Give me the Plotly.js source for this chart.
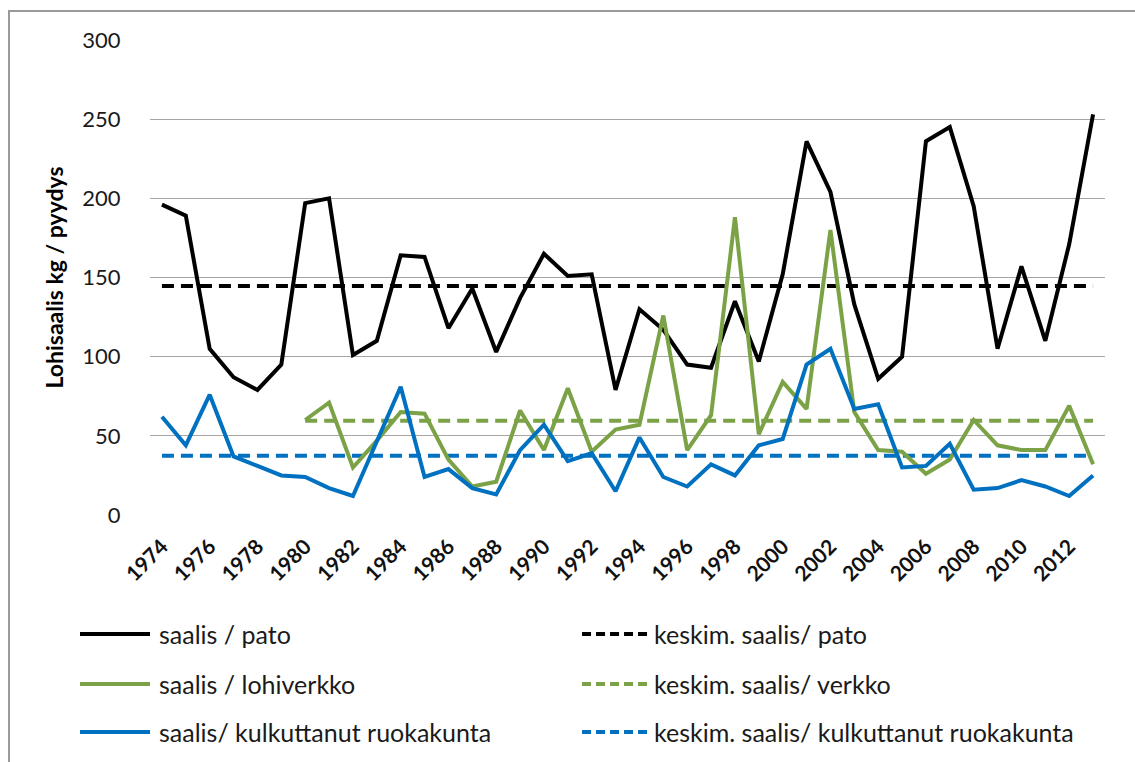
<!DOCTYPE html>
<html>
<head>
<meta charset="utf-8">
<script src="https://cdn.plot.ly/plotly-3.0.1.min.js"></script>
<style>
  html, body { margin: 0; padding: 0; background: #fff; }
  #wrap { position: relative; width: 1135px; height: 762px; overflow: hidden; }
  #frame { position: absolute; left: 8px; top: 10px; width: 1140px; height: 760px; border: 2px solid #9a9a9a; box-sizing: border-box; pointer-events: none; }
  #chart { position: absolute; left: 0; top: 0; width: 1135px; height: 762px; }
</style>
</head>
<body>
<div id="wrap">
  <div id="chart"></div>
  <div id="frame"></div>
</div>
<script>
// ---- data ----
const years = [1974,1975,1976,1977,1978,1979,1980,1981,1982,1983,1984,1985,1986,1987,1988,1989,1990,1991,1992,1993,
               1994,1995,1996,1997,1998,1999,2000,2001,2002,2003,2004,2005,2006,2007,2008,2009,2010,2011,2012,2013];
const saalisPato = [196,189,105,87,79,95,197,200,101,110,164,163,118,143,103,137,165,151,152,79,
                    130,117,95,93,135,97,152,236,204,133,86,100,236,245,195,105,157,110,171,253];
const yearsVerkko = [1980,1981,1982,1983,1984,1985,1986,1987,1988,1989,1990,1991,1992,1993,1994,1995,1996,1997,1998,1999,
                     2000,2001,2002,2003,2004,2005,2006,2007,2008,2009,2010,2011,2012,2013];
const saalisVerkko = [60,71,30,47,65,64,35,18,21,66,41,80,40,54,57,126,41,63,188,51,
                      84,67,180,65,41,40,26,35,60,44,41,41,69,32];
const saalisRuokakunta = [62,44,76,37,31,25,24,17,12,46,81,24,29,17,13,41,57,34,39,15,
                          49,24,18,32,25,44,48,95,105,67,70,30,31,45,16,17,22,18,12,25];
const keskimPato = 144.7;
const keskimVerkko = 59.6;
const keskimRuokakunta = 37.5;
const seriesNames = ['saalis / pato','keskim. saalis/ pato','saalis / lohiverkko','keskim. saalis/ verkko',
                     'saalis/ kulkuttanut ruokakunta','keskim. saalis/ kulkuttanut ruokakunta'];
const tickYears = [1974,1976,1978,1980,1982,1984,1986,1988,1990,1992,1994,1996,1998,2000,2002,2004,2006,2008,2010,2012];
const yTicks = [0,50,100,150,200,250,300];

// ---- styling ----
const BLACK = '#000000', GREEN = '#7ba246', BLUE = '#0070c0';
const colors = [BLACK, BLACK, GREEN, GREEN, BLUE, BLUE];
const dashes = ['solid','12px,7px','solid','12px,7px','solid','12px,7px'];
const FONT = 'Lato, "Liberation Sans", sans-serif';

const traces = [
  {x: years, y: saalisPato},
  {x: years, y: years.map(() => keskimPato)},
  {x: yearsVerkko, y: saalisVerkko},
  {x: yearsVerkko, y: yearsVerkko.map(() => keskimVerkko)},
  {x: years, y: saalisRuokakunta},
  {x: years, y: years.map(() => keskimRuokakunta)}
].map((t, i) => Object.assign(t, {
  type: 'scatter', mode: 'lines', name: seriesNames[i], showlegend: false,
  line: {color: colors[i], width: 4, dash: dashes[i]}, hoverinfo: 'x+y+name'
}));
const order = [1,3,5,0,2,4];
const data = order.map(i => traces[i]);

// ---- manual legend (two columns) ----
const legRowsY = [-0.2505, -0.3558, -0.4568];
const legCol = [{x0: -0.0733, x1: 0.0, tx: 0.0073}, {x0: 0.4524, x1: 0.5215, tx: 0.5257}];
const shapes = [], annotations = [];
seriesNames.forEach((name, i) => {
  const row = Math.floor(i / 2), col = i % 2;
  const c = legCol[col], y = legRowsY[row];
  shapes.push({type: 'line', xref: 'paper', yref: 'paper', x0: c.x0, x1: c.x1, y0: y, y1: y,
               line: {color: colors[i], width: 4, dash: col === 1 ? '9px,5px' : 'solid'}});
  annotations.push({xref: 'paper', yref: 'paper', x: c.tx, y: y, xanchor: 'left', yanchor: 'middle',
                    text: name, showarrow: false, font: {family: FONT, size: 25, color: '#1a1a1a'}});
});

const layout = {
  width: 1135, height: 762,
  margin: {l: 150, r: 30, t: 40, b: 247},
  paper_bgcolor: '#ffffff', plot_bgcolor: '#ffffff',
  showlegend: false,
  font: {family: FONT, color: '#1a1a1a'},
  xaxis: {
    type: 'linear', range: [1973.5, 2013.5],
    tickmode: 'array', tickvals: tickYears, ticktext: tickYears.map(String),
    tickangle: -45, tickfont: {family: FONT, size: 21, color: '#111', weight: 'bold'},
    ticks: 'outside', ticklen: 10, tickcolor: 'rgba(0,0,0,0)',
    showgrid: false, zeroline: false, showline: false
  },
  yaxis: {
    range: [0, 300], tickmode: 'array', tickvals: yTicks,
    tickfont: {family: FONT, size: 22, color: '#1a1a1a'},
    ticks: 'outside', ticklen: 24, tickcolor: 'rgba(0,0,0,0)',
    showgrid: true, gridcolor: '#a6a6a6', gridwidth: 1,
    zeroline: false, showline: false,
    title: {text: 'Lohisaalis kg / pyydys', standoff: 12,
            font: {family: FONT, size: 23, color: '#000', weight: 'bold'}}
  },
  shapes: shapes,
  annotations: annotations
};

Plotly.newPlot('chart', data, layout, {displayModeBar: false, staticPlot: true});
</script>
</body>
</html>
